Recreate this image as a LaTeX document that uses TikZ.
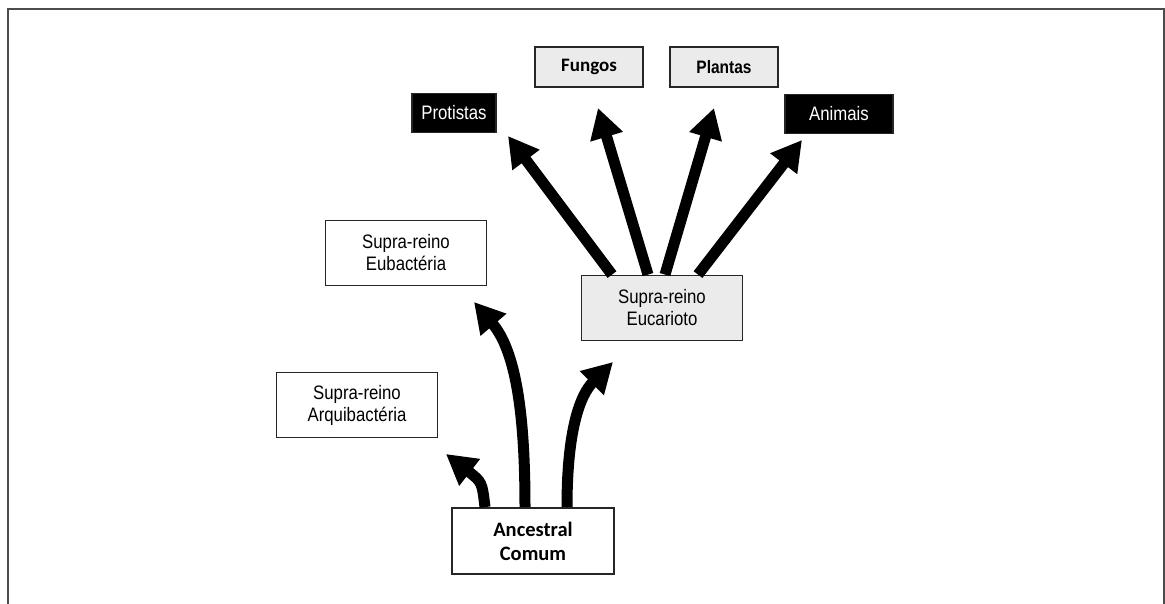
\documentclass[tikz,border=0pt]{standalone}
\usepackage{fontspec}
\usepackage{tikz}
\usetikzlibrary{arrows.meta}
\newfontfamily\estreita[FakeStretch=0.86]{Liberation Sans}
\newfontfamily\calib{Carlito}
\tikzset{
  caixa/.style={draw=black!85, line width=1.8pt, fill=white, align=center, inner sep=0pt,
    minimum width=161pt, minimum height=65pt, font=\estreita\fontsize{19.5}{22}\selectfont},
  caixapreta/.style={caixa, fill=black, text=white, minimum height=39pt},
  caixacinza/.style={caixa, fill=black!8},
  seta/.style={line width=11pt, -{Triangle[length=30pt,width=32pt]}},
}
\begin{document}
\begin{tikzpicture}[x=1pt,y=-1pt]
\useasboundingbox (0,0) rectangle (1165,604);
%frame
\draw[black!70, line width=2pt] (8,604) -- (8,9) -- (1164,9) -- (1164,604);

%boxes
\node[caixapreta, minimum width=84pt] (prot) at (454,113) {Protistas};
\node[caixacinza, minimum width=108pt, minimum height=40pt, font=\calib\bfseries\fontsize{19}{21}\selectfont] (fung) at (589,67) {Fungos};
\node[caixacinza, minimum width=108pt, minimum height=40pt, font=\estreita\bfseries\fontsize{18}{20}\selectfont] (plan) at (724,67) {Plantas};
\node[caixapreta, minimum width=108pt] (anim) at (839,114) {Animais};
\node[caixa] (eubac) at (406,253) {Supra-reino\\Eubactéria};
\node[caixacinza] (eucar) at (662,308) {Supra-reino\\Eucarioto};
\node[caixa] (arqui) at (357,405) {Supra-reino\\Arquibactéria};
\node[caixa, minimum width=162pt, minimum height=66pt, font=\calib\bfseries\fontsize{20.5}{24}\selectfont] (ances) at (533,541) {Ancestral\\Comum};

%arrow tips
\coordinate (tprot) at (508,136);
\coordinate (tfung) at (598,108);
\coordinate (tplan) at (714,108);
\coordinate (tanim) at (802,140);
\coordinate (tarqui) at (446,454);
\coordinate (teubac) at (474,302);
\coordinate (teucar) at (613,362);

%arrows out of eucarioto
\draw[seta] ([xshift=-50pt]eucar.north) -- (tprot);
\draw[seta] ([xshift=-14pt]eucar.north) -- (tfung);
\draw[seta] ([xshift=3pt]eucar.north) -- (tplan);
\draw[seta] ([xshift=36pt]eucar.north) -- (tanim);

%arrows out of ancestral
\draw[seta] ([xshift=-48pt]ances.north) .. controls (482,482) .. (tarqui);
\draw[seta] ([xshift=-8pt]ances.north) .. controls (525,410) and (515,350) .. (teubac);
\draw[seta] ([xshift=34pt]ances.north) .. controls (567,430) and (580,395) .. (teucar);
\end{tikzpicture}
\end{document}
